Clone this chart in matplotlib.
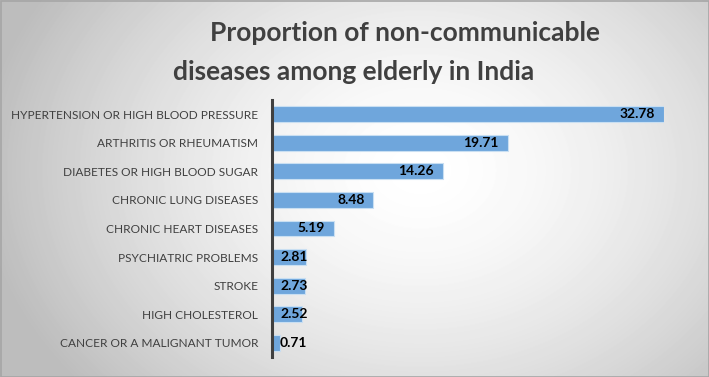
import numpy as np
import matplotlib
matplotlib.use("Agg")
import matplotlib.pyplot as plt
from matplotlib.colors import LinearSegmentedColormap

categories = [
    "HYPERTENSION OR HIGH BLOOD PRESSURE",
    "ARTHRITIS OR RHEUMATISM",
    "DIABETES OR HIGH BLOOD SUGAR",
    "CHRONIC LUNG DISEASES",
    "CHRONIC HEART DISEASES",
    "PSYCHIATRIC PROBLEMS",
    "STROKE",
    "HIGH CHOLESTEROL",
    "CANCER OR A MALIGNANT TUMOR",
]
values = [32.78, 19.71, 14.26, 8.48, 5.19, 2.81, 2.73, 2.52, 0.71]
value_labels = ["32.78", "19.71", "14.26", "8.48", "5.19", "2.81", "2.73", "2.52", "0.71"]
title_lines = ["Proportion of non-communicable", "diseases among elderly in India"]

W, H = 709, 377
fig = plt.figure(figsize=(W / 100, H / 100), dpi=100)
FONT = "Lato"

# background gradient
bg = fig.add_axes([0, 0, 1, 1], zorder=-10)
yy, xx = np.mgrid[0:H, 0:W]
cx, cy = 420, 170
d = np.sqrt(((xx - cx) / 430.0) ** 2 + ((yy - cy) / 330.0) ** 2)
val = np.clip(1.0 - 0.25 * d ** 1.6, 0.74, 1.0)
cmap = LinearSegmentedColormap.from_list("g", ["#000000", "#ffffff"])
bg.imshow(val, cmap=cmap, vmin=0, vmax=1, aspect="auto", interpolation="bilinear")
bg.set_axis_off()
bg.add_patch(plt.Rectangle((0, 0), W - 1, H - 1, fill=False, edgecolor="#a6a6a6", lw=1.2))

left = 272 / W
ax_w = (664 - 272) / W
bottom = 1 - 357 / H
ax_h = (357 - 100) / H
ax = fig.add_axes([left, bottom, ax_w, ax_h])
ax.set_facecolor("none")
n = len(categories)
y = np.arange(n)
ax.barh(y, values, height=0.56, color="#6fa6dc", edgecolor="#c9dff2", linewidth=0.8, zorder=2)
ax.set_xlim(0, values[0])
ax.set_ylim(n - 0.5, -0.5)
ax.set_xticks([])
for s in ["top", "right", "bottom"]:
    ax.spines[s].set_visible(False)
ax.spines["left"].set_color("#404040")
ax.spines["left"].set_linewidth(2.2)

fig.canvas.draw()
renderer = fig.canvas.get_renderer()

# fit label font size so longest label is ~246 px wide
probe = fig.text(0, 0, categories[0], fontsize=10, family=FONT)
wprobe = probe.get_window_extent(renderer).width
probe.remove()
lab_size = 10 * 246 / wprobe

ax.set_yticks(y)
ax.set_yticklabels(categories, fontsize=lab_size, color="#404040", family=FONT)
ax.tick_params(axis="y", length=0, pad=10)

px_per_unit = (664 - 272) / values[0]
for yi, v, lab in zip(y, values, value_labels):
    t = ax.text(0, yi, lab, fontsize=10, fontweight="bold", color="#000000",
                va="center", ha="left", family=FONT, zorder=3)
    bb = t.get_window_extent(renderer)
    tw = bb.width / px_per_unit
    pad_r = 9 / px_per_unit
    pad_l = 8 / px_per_unit
    right = max(v - pad_r, pad_l + tw)
    t.set_x(right - tw)

fig.text(210 / W, 1 - 33 / H, title_lines[0], fontsize=19, fontweight="bold",
         color="#404040", ha="left", va="center", family=FONT)
fig.text(173 / W, 1 - 72 / H, title_lines[1], fontsize=19, fontweight="bold",
         color="#404040", ha="left", va="center", family=FONT)

fig.savefig("out.png", dpi=100)
